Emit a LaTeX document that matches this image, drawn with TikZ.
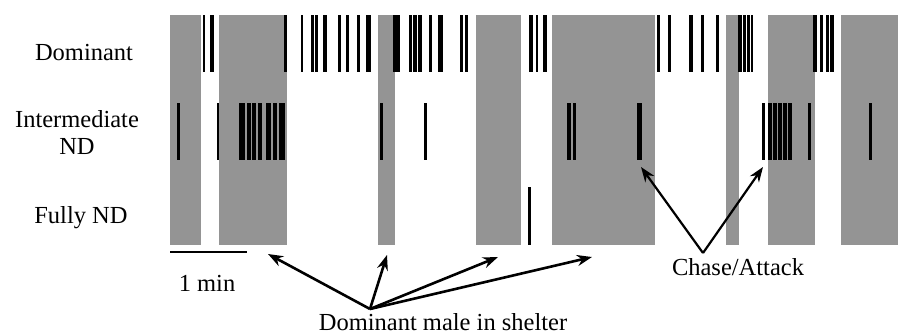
\documentclass[tikz,border=0pt]{standalone}
\usepackage{fontspec}
\setmainfont{Liberation Serif}
\usetikzlibrary{arrows.meta}
\begin{document}
\begin{tikzpicture}[x=1pt,y=-1pt,
    shelter/.style={fill=black!42},
    event/.style={fill=black},
    lbl/.style={font=\fontsize{24.5}{27}\selectfont,inner sep=0pt},
    pointer/.style={-{Stealth[length=15pt,width=11pt]},line width=2.6pt}]
    \useasboundingbox (0,0) rectangle (901,336);
    \def\top{15}%top of the record
    \def\bot{245}%bottom of the record
    % dominant male in shelter
    \foreach \a/\b in {170/201,219/287,378/395,476/521,552/655,726/739,768/815,841/898}
        \path[shelter] (\a,\top) rectangle (\b,\bot);
    % dominant
    \foreach \a/\b in {203/205,210/214,284/287,301/303,311/314,315/318,323/327,338/341,346/349,
        357/360,366/371,393/400,409/412,413/417,418/422,429/432,438/443,460/463,465/468,
        529/533,536/538,543/547,657/660,668/671,689/693,701/704,716/719,
        738/742,743/746,747/750,751/753,813/817,820/823,826/829,830/834}
        \path[event] (\a,15) rectangle (\b,72);
    % intermediate ND
    \foreach \a/\b in {177/180,217/219,239/245,247/251,252/256,258/262,266/271,273/277,279/285,
        380/383,424/427,567/571,573/576,637/642,762/765,768/772,773/777,778/782,783/787,
        788/792,808/811,869/872}
        \path[event] (\a,103) rectangle (\b,160);
    % fully ND
    \foreach \a/\b in {528/531}
        \path[event] (\a,187) rectangle (\b,245);
    % row labels
    \node[lbl] (dom) at (84,53) {Dominant};
    \node[lbl,align=center] (int) at (77,133) {Intermediate\\ND};
    \node[lbl] (full) at (81,218) {Fully ND};
    % scale
    \draw[line width=2.8pt] (170,252) -- (247,252);
    \node[lbl] (min) at (207,283) {1 min};
    % annotations
    \node[lbl] (shel) at (443,322) {Dominant male in shelter};
    \coordinate (hub) at (370,309);
    \coordinate (s1) at (268,254);
    \coordinate (s2) at (387,255);
    \coordinate (s3) at (498,257);
    \coordinate (s4) at (592,257);
    \foreach \t in {s1,s2,s3,s4} \draw[pointer] (hub) -- (\t);
    \node[lbl] (chase) at (738,267) {Chase/Attack};
    \coordinate (vee) at (703,253);
    \coordinate (c1) at (641,167);
    \coordinate (c2) at (763,167);
    \foreach \t in {c1,c2} \draw[pointer,line width=2.2pt] (vee) -- (\t);
\end{tikzpicture}
\end{document}
